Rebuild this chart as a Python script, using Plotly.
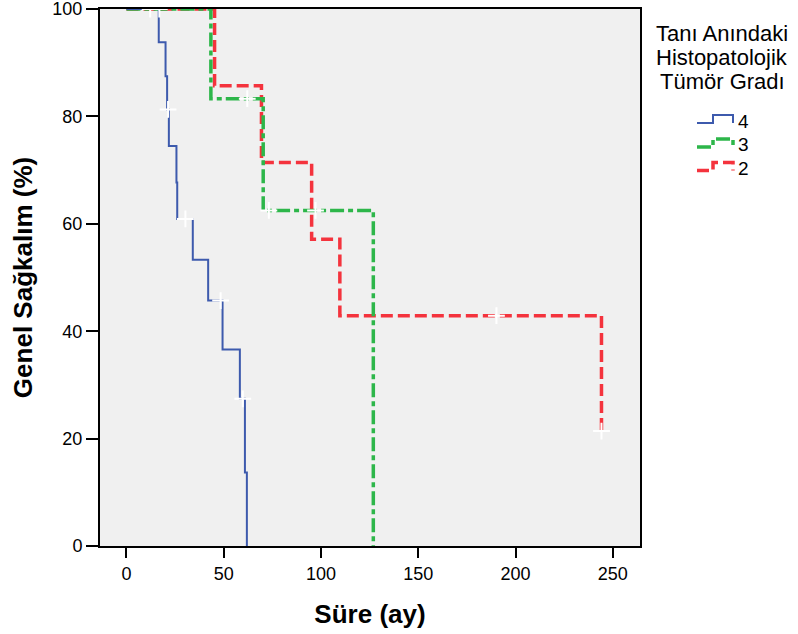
import plotly.graph_objects as go

# Kaplan-Meier steps per tumour grade (time in months, survival in %)
grade4_time = [0, 16.6, 20.1, 20.9, 21.8, 25.7, 26.1, 34.1, 42.0, 49.4, 58.3, 60.9, 61.9]
grade4_surv = [100, 93.8, 87.5, 81.3, 74.5, 67.7, 60.9, 53.3, 45.7, 36.6, 27.4, 13.7, 0]
grade4_cens_time = [21.4, 30.3, 48.4, 59.8]
grade4_cens_surv = [81.3, 60.9, 45.7, 27.4]

grade3_time = [0, 43.4, 70.3, 126.9]
grade3_surv = [100, 83.3, 62.5, 0]
grade3_cens_time = [12.2, 62.1, 73.2, 97.2]
grade3_cens_surv = [100, 83.3, 62.5, 62.5]

grade2_time = [0, 45.3, 69.4, 95.2, 109.7, 244.2]
grade2_surv = [100, 85.7, 71.4, 57.1, 42.9, 21.4]
grade2_cens_time = [16.9, 190.2, 244.2]
grade2_cens_surv = [100, 42.9, 21.4]

legend_title_lines = ["Tanı Anındaki", "Histopatolojik", "Tümör Gradı"]
legend_labels = ["4", "3", "2"]

x_ticks = [0, 50, 100, 150, 200, 250]
y_ticks = [0, 20, 40, 60, 80, 100]

FONT = "Liberation Sans, Arial, sans-serif"
W, H = 798, 634
L, R, T, B = 100, 158, 9, 88

BLUE = "#3d5aad"
GREEN = "#2db64a"
RED = "#f4333d"
DASH_GREEN = "14px,4px,5px,4px"
DASH_RED = "12px,5px"

groups = [
    (grade2_time, grade2_surv, RED, 3.5, DASH_RED),
    (grade3_time, grade3_surv, GREEN, 3.5, DASH_GREEN),
    (grade4_time, grade4_surv, BLUE, 2, "solid"),
]
censors = [
    (grade2_cens_time, grade2_cens_surv),
    (grade3_cens_time, grade3_cens_surv),
    (grade4_cens_time, grade4_cens_surv),
]

fig = go.Figure()
for t, s, col, w, dash in groups:
    fig.add_trace(go.Scatter(x=t, y=s, mode="lines", line=dict(color=col, width=w, dash=dash, shape="hv"),
                             showlegend=False, hoverinfo="skip"))
for t, s in censors:
    fig.add_trace(go.Scatter(x=t, y=s, mode="markers",
                             marker=dict(symbol="cross-thin", size=12, line=dict(color="white", width=2)),
                             showlegend=False, hoverinfo="skip"))


def px_x(px):
    return (px - L) / (W - L - R)


def px_y(py):
    return (H - B - py) / (H - T - B)


annotations = []
for line, cy in zip(legend_title_lines, [33.5, 57.5, 81.5]):
    annotations.append(dict(xref="paper", yref="paper", x=px_x(722), y=px_y(cy), text=line,
                            showarrow=False, xanchor="center", yanchor="middle",
                            font=dict(family=FONT, size=22, color="black")))

# Legend glyphs: small step paths in each series' line style
shapes = []
glyph_styles = [(BLUE, 2, "solid"), (GREEN, 3.5, DASH_GREEN), (RED, 3.5, DASH_RED)]
label_cy = [121, 145, 168.5]
for (col, w, dash), lab, cy in zip(glyph_styles, legend_labels, label_cy):
    y_lo, y_hi = px_y(cy + 2), px_y(cy - 6)
    x0, x1, x2 = px_x(697), px_x(713), px_x(733)
    path = f"M {x0},{y_lo} L {x1},{y_lo} L {x1},{y_hi} L {x2},{y_hi} L {x2},{y_lo}"
    shapes.append(dict(type="path", xref="paper", yref="paper", path=path,
                       line=dict(color=col, width=w, dash=dash)))
    annotations.append(dict(xref="paper", yref="paper", x=px_x(736), y=px_y(cy), text=lab,
                            showarrow=False, xanchor="left", yanchor="middle",
                            font=dict(family=FONT, size=19, color="black")))

fig.update_layout(
    width=W, height=H,
    margin=dict(l=L, r=R, t=T, b=B, pad=0, autoexpand=False),
    paper_bgcolor="white",
    plot_bgcolor="#f0f0f0",
    font=dict(family=FONT, size=18, color="black"),
    showlegend=False,
    annotations=annotations,
    shapes=shapes,
)
fig.update_xaxes(
    range=[-13.6, 264], tickvals=x_ticks, ticks="outside", ticklen=10, tickwidth=2, tickcolor="black",
    showline=True, linecolor="black", linewidth=2, mirror=True, showgrid=False, zeroline=False,
    automargin=False, ticklabeloverflow="allow",
    tickfont=dict(family=FONT, size=18, color="black"),
    title=dict(text="<b>Süre (ay)</b>", font=dict(family=FONT, size=26, color="black"), standoff=22),
)
fig.update_yaxes(
    range=[0, 100], tickvals=y_ticks, ticks="outside", ticklen=12, tickwidth=2, tickcolor="black",
    showline=True, linecolor="black", linewidth=2, mirror=True, showgrid=False, zeroline=False,
    automargin=False, ticklabeloverflow="allow",
    tickfont=dict(family=FONT, size=18, color="black"),
    title=dict(text="<b>Genel Sağkalım (%)</b>", font=dict(family=FONT, size=26, color="black"), standoff=12),
)

fig.write_html("out.html")
